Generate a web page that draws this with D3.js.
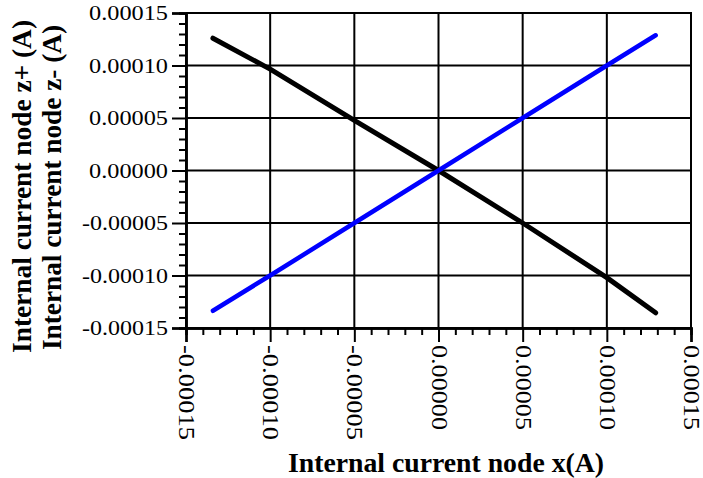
<!DOCTYPE html>
<html><head><meta charset="utf-8">
<script src="https://cdn.jsdelivr.net/npm/d3@7"></script>
<style>body{margin:0;background:#fff}svg{display:block}</style>
</head><body>
<script>
const xValues = [-0.000134, -0.0001, -0.00005, 0, 0.00005, 0.0001, 0.000129];
const zPlus  = [-0.0001336, -0.0001, -0.00005, 0, 0.00005, 0.0001, 0.0001288];
const zMinus = [0.000126, 0.0000965, 0.0000478, 0, -0.00005, -0.000102, -0.0001355];
const tickValues = [-0.00015, -0.0001, -0.00005, 0, 0.00005, 0.0001, 0.00015];
const tickLabels = ["-0.00015", "-0.00010", "-0.00005", "0.00000", "0.00005", "0.00010", "0.00015"];
const xTitle = "Internal current node x(A)";
const yTitles = ["Internal current node z+ (A)", "Internal current node z- (A)"];

const W = 703, H = 478;
const L = 186, R = 691, T = 13, B = 328;
const svg = d3.select("body").append("svg").attr("width", W).attr("height", H);
const x = d3.scaleLinear().domain([-0.00015, 0.00015]).range([L, R]);
const y = d3.scaleLinear().domain([-0.00015, 0.00015]).range([B, T]);
const serif = "'Liberation Serif','Times New Roman',serif";

const minor = d3.range(-0.00015, 0.000150001, 0.00001).filter(v => Math.abs(Math.round(v / 0.00005) * 0.00005 - v) > 1e-9);

const g = svg.append("g");
g.selectAll(".gx").data(tickValues).join("line")
  .attr("x1", d => x(d)).attr("x2", d => x(d)).attr("y1", T).attr("y2", B)
  .attr("stroke", "#000").attr("stroke-width", 2);
g.selectAll(".gy").data(tickValues).join("line")
  .attr("y1", d => y(d)).attr("y2", d => y(d)).attr("x1", L).attr("x2", R)
  .attr("stroke", "#000").attr("stroke-width", 2);

const xAxis = d3.axisBottom(x).tickValues(tickValues).tickSize(14).tickFormat("");
const yAxis = d3.axisLeft(y).tickValues(tickValues).tickSize(14).tickFormat("");
const xMinor = d3.axisBottom(x).tickValues(minor).tickSize(7).tickFormat("");
const yMinor = d3.axisLeft(y).tickValues(minor).tickSize(7).tickFormat("");
[[xAxis, `translate(0,${B})`], [xMinor, `translate(0,${B})`], [yAxis, `translate(${L},0)`], [yMinor, `translate(${L},0)`]].forEach(([ax, tr]) => {
  const a = svg.append("g").attr("transform", tr).call(ax);
  a.select(".domain").attr("stroke", "#000").attr("stroke-width", 2.5);
  a.selectAll(".tick line").attr("stroke", "#000").attr("stroke-width", 2);
});

svg.append("g").selectAll("text").data(tickValues).join("text")
  .attr("x", 168).attr("y", d => y(d) + 7)
  .attr("text-anchor", "end").attr("font-family", serif).attr("font-size", 22)
  .attr("textLength", (d, i) => tickLabels[i].startsWith("-") ? 86 : 79)
  .attr("lengthAdjust", "spacingAndGlyphs")
  .text((d, i) => tickLabels[i]);

svg.append("g").selectAll("text").data(tickValues).join("text")
  .attr("transform", d => `translate(${x(d)},345) rotate(90)`)
  .attr("x", 0).attr("y", 7)
  .attr("font-family", serif).attr("font-size", 24)
  .attr("textLength", (d, i) => tickLabels[i].startsWith("-") ? 95 : 85)
  .attr("lengthAdjust", "spacingAndGlyphs")
  .text((d, i) => tickLabels[i]);

const line = d3.line().x((d, i) => x(xValues[i])).y(d => y(d));
svg.append("path").datum(zMinus).attr("d", line).attr("fill", "none")
  .attr("stroke", "#000").attr("stroke-width", 5).attr("stroke-linecap", "round").attr("stroke-linejoin", "round");
svg.append("path").datum(zPlus).attr("d", line).attr("fill", "none")
  .attr("stroke", "#0000ff").attr("stroke-width", 4.5).attr("stroke-linecap", "round").attr("stroke-linejoin", "round");

svg.append("path").attr("d", `M${L},${T}H${R}V${B}`).attr("fill", "none").attr("stroke", "#000").attr("stroke-width", 2);

svg.append("text").attr("x", 446).attr("y", 472).attr("text-anchor", "middle")
  .attr("font-family", serif).attr("font-weight", "bold").attr("font-size", 28)
  .attr("textLength", 316).attr("lengthAdjust", "spacingAndGlyphs").text(xTitle);
[[31, 186.5, 333], [61, 187.5, 325]].forEach(([bx, cy, len], i) => {
  svg.append("text").attr("transform", `translate(${bx},${cy}) rotate(-90)`)
    .attr("text-anchor", "middle").attr("font-family", serif).attr("font-weight", "bold").attr("font-size", 28)
    .attr("textLength", len).attr("lengthAdjust", "spacingAndGlyphs").text(yTitles[i]);
});
</script>
</body></html>
